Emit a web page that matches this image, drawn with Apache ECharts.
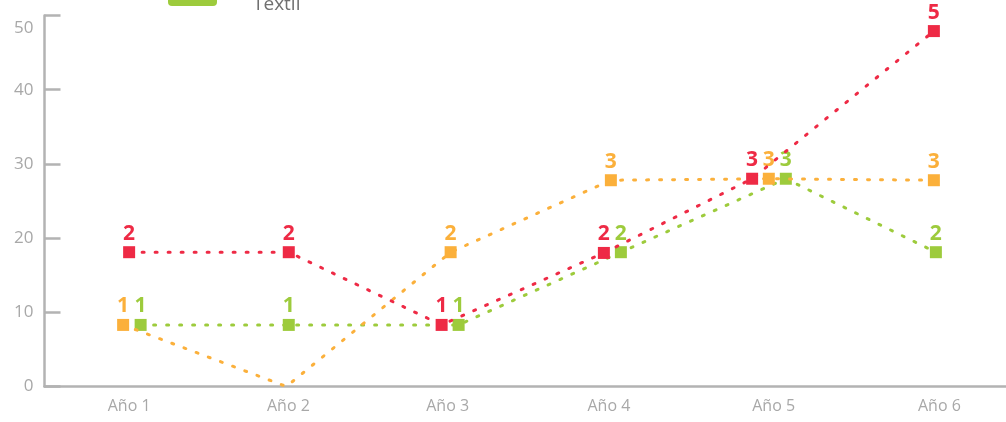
<!DOCTYPE html>
<html><head><meta charset="utf-8">
<script src="https://cdn.jsdelivr.net/npm/echarts@6/dist/echarts.min.js"></script>
<style>html,body{margin:0;padding:0;background:#fff}#c{width:1006px;height:422px}</style>
</head><body><div id="c"></div>
<script>
// ---- data ----
const categories = ['Año 1', 'Año 2', 'Año 3', 'Año 4', 'Año 5', 'Año 6'];
const seriesNames = ['Serie 1', 'Serie 2', 'Textil'];
const redValues = [18.1, 18.1, 8.3, 18.0, 28.0, 47.9];
const orangeValues = [8.3, 0, 18.1, 27.8, 28.0, 27.8];
const greenValues = [8.3, 8.3, 8.3, 18.1, 28.0, 18.1];
const yMin = 0, yMax = 50, yStep = 10;

// ---- style / layout (not data) ----
const colors = ['#ee2a45', '#fbb03b', '#9dcb3c'];
const gridLeft = 44.5, gridWidth = 967.5, gridTop = 15.5, gridBottom = 35.5;
const bandPx = gridWidth / categories.length;
// horizontal dodge of overlapping markers, in pixels
const dodgePx = [
  [4, 2.4, -6, -5, -18, 2.5],
  [-2, 0, 3, 2, -1.3, 2.5],
  [15.5, 2.4, 11, 12, 15.7, 4.5]
];
// small horizontal nudges of the category labels, in pixels
const labelShiftPx = [4, 2, 0, 0, 3.5, 8];
const axisGrey = '#b3b3b3';
const labelGrey = '#a8a8a8';

function build(values, si) {
  return values.map((v, i) => {
    const item = { value: [i + dodgePx[si][i] / bandPx, v] };
    if (v === 0) { item.symbol = 'none'; item.label = { show: false }; }
    return item;
  });
}

const allValues = [redValues, orangeValues, greenValues];
const series = allValues.map((vals, si) => ({
  name: seriesNames[si],
  type: 'line',
  xAxisIndex: 1,
  data: build(vals, si),
  symbol: 'rect',
  symbolSize: 12,
  itemStyle: { color: colors[si] },
  lineStyle: { color: colors[si], width: 3, type: [2, 11], cap: 'round' },
  label: {
    show: true, position: 'top', distance: 2,
    color: colors[si], fontFamily: 'Open Sans', fontWeight: 'bold', fontSize: 21,
    formatter: p => String(Math.round(p.value[1] / 10))
  },
  animation: false,
  z: 3 - si
}));

const catRich = {};
labelShiftPx.forEach((s, i) => {
  catRich['s' + i] = { color: labelGrey, fontSize: 16, fontFamily: 'Open Sans', padding: [0, 0, 0, 2 * s] };
});

const chart = echarts.init(document.getElementById('c'));
chart.setOption({
  animation: false,
  graphic: [
    { type: 'rect', left: 168, top: -14, shape: { width: 49, height: 20, r: 4 }, style: { fill: colors[2] } },
    { type: 'text', x: 253, y: -5, style: { text: seriesNames[2], fill: '#707070', font: '19px "Open Sans"', verticalAlign: 'top' } }
  ],
  grid: { left: gridLeft, width: gridWidth, top: gridTop, bottom: gridBottom, outerBoundsMode: 'none', containLabel: false },
  xAxis: [{
    type: 'category',
    data: categories,
    boundaryGap: true,
    axisLine: { lineStyle: { color: axisGrey, width: 2.5 } },
    axisTick: { inside: true, length: 9, lineStyle: { color: axisGrey, width: 1.5 } },
    axisLabel: {
      color: labelGrey, fontSize: 16, fontFamily: 'Open Sans', margin: 12,
      formatter: (v, i) => '{s' + i + '|' + v + '}',
      rich: catRich
    },
    splitLine: { show: false }
  }, {
    type: 'value', min: -0.5, max: categories.length - 0.5, show: false
  }],
  yAxis: {
    type: 'value', min: yMin, max: yMax, interval: yStep,
    axisLine: { show: true, onZero: false, lineStyle: { color: axisGrey, width: 2.5 } },
    axisTick: { show: true, inside: true, length: 16, lineStyle: { color: axisGrey, width: 2.5 } },
    splitLine: { show: false },
    axisLabel: {
      color: labelGrey, fontSize: 17, fontFamily: 'Open Sans', margin: 11,
      formatter: v => v === yMax ? '{top|' + v + '}' : String(v),
      rich: { top: { color: labelGrey, fontSize: 17, fontFamily: 'Open Sans', padding: [26, 0, 0, 0] } }
    }
  },
  series: series
});
</script>
</body></html>
